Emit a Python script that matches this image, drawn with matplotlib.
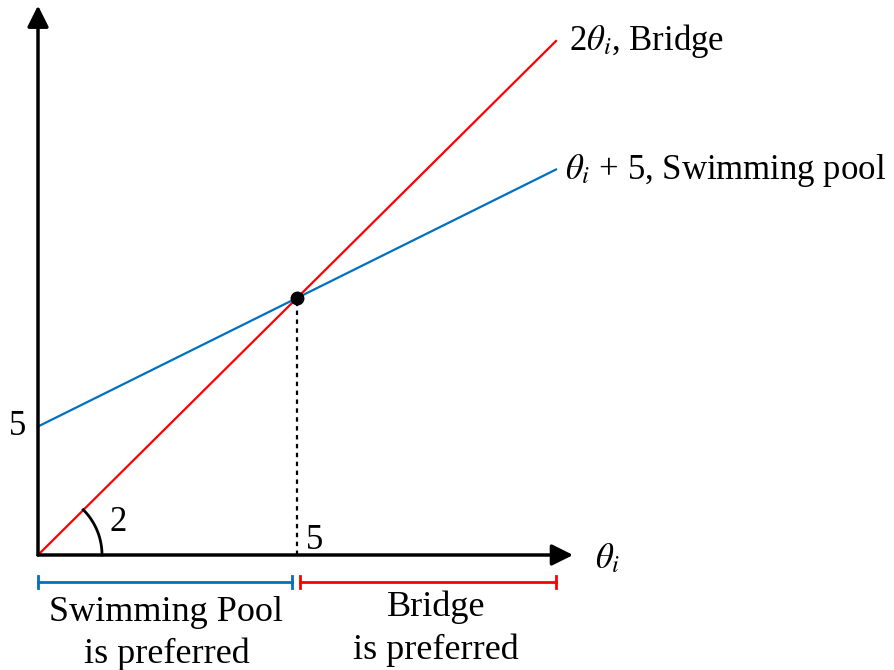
import matplotlib
matplotlib.use("Agg")
from matplotlib import pyplot as plt
import numpy as np

plt.rcParams['font.family'] = ['Liberation Serif', 'DejaVu Serif']
plt.rcParams['mathtext.fontset'] = 'stix'

# data
theta = [0, 10]
bridge = [0, 20]          # 2*theta
pool = [5, 15]            # theta + 5
cross = (5, 10)
pool_range = [0, 4.9]
bridge_range = [5.06, 10]

sx, sy = 51.8, 25.7   # px per unit

fig = plt.figure(figsize=(8.94, 6.7), dpi=100)
ax = fig.add_axes([0, 0, 1, 1])
ax.set_xlim(-38 / sx, (894 - 38) / sx)
ax.set_ylim(-115 / sy, 555 / sy)
ax.axis('off')

# axes with arrows
arrow = dict(arrowstyle='-|>', lw=2.5, color='k', mutation_scale=32, shrinkA=0, shrinkB=0)
ax.annotate('', xy=(10.33, 0), xytext=(0, 0), arrowprops=arrow)
ax.annotate('', xy=(0, 21.38), xytext=(0, 0), arrowprops=arrow)

ax.plot(theta, bridge, color='#ff0000', lw=1.6)
ax.plot(theta, pool, color='#0070c0', lw=1.6)
ax.plot([cross[0], cross[0]], [0, cross[1]], color='k', lw=1.6, ls=(0, (2, 2)))
ax.plot(*cross, 'o', color='k', ms=9, zorder=5)

# angle arc (radius in pixels)
t = np.radians(np.linspace(0, 45, 50))
ax.plot(64 * np.cos(t) / sx, 64 * np.sin(t) / sy, color='k', lw=2)
ax.text(1.55, 1.25, '2', fontsize=25, ha='center', va='center')

ax.text(-0.4, 5, '5', fontsize=25, ha='center', va='center')
ax.text(5.33, 0.55, '5', fontsize=25, ha='center', va='center')
ax.text(10.75, -0.15, r'$\theta_i$', fontsize=25, ha='left', va='center')

ax.text(10.25, 20.0, r'2$\theta_i$, Bridge', fontsize=25, ha='left', va='center')
ax.text(10.18, 14.95, r'$\theta_i$ + 5, Swimming pool', fontsize=25, ha='left', va='center')

# preference brackets
for rng, col in [(pool_range, '#0070c0'), (bridge_range, '#ff0000')]:
    ax.plot(rng, [-1.05, -1.05], color=col, lw=2)
    for xv in rng:
        ax.plot([xv, xv], [-1.3, -0.8], color=col, lw=2)

ax.text(2.48, -2.22, 'Swimming Pool', fontsize=26, ha='center', va='center')
ax.text(2.48, -3.85, 'is preferred', fontsize=26, ha='center', va='center')
ax.text(7.68, -2.05, 'Bridge', fontsize=26, ha='center', va='center')
ax.text(7.68, -3.72, 'is preferred', fontsize=26, ha='center', va='center')

fig.savefig('out.png', dpi=100)
